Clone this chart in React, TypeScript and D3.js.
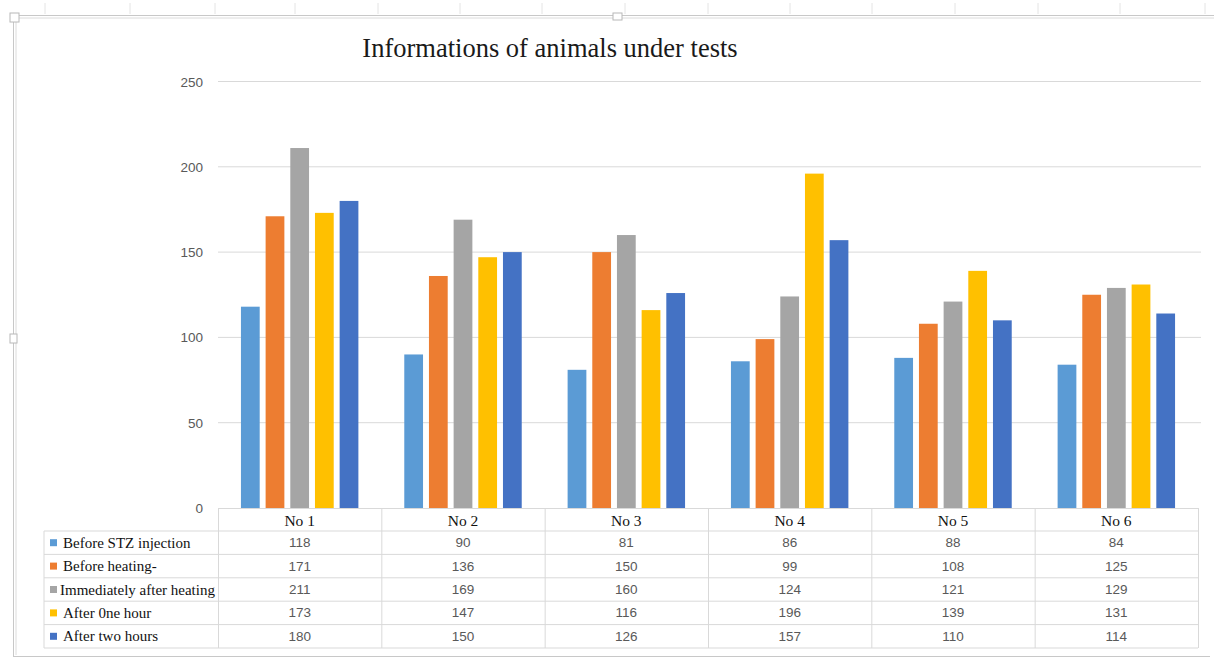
import React from "react";
import { scaleBand, scaleLinear } from "d3";

const categories = ["No 1", "No 2", "No 3", "No 4", "No 5", "No 6"];
const seriesNames = [
  "Before STZ injection",
  "Before heating-",
  "Immediately after heating",
  "After 0ne hour",
  "After two hours",
];
const beforeStz = [118, 90, 81, 86, 88, 84];
const beforeHeating = [171, 136, 150, 99, 108, 125];
const immediately = [211, 169, 160, 124, 121, 129];
const afterOneHour = [173, 147, 116, 196, 139, 131];
const afterTwoHours = [180, 150, 126, 157, 110, 114];
const yTicks = [0, 50, 100, 150, 200, 250];

const colors = ["#5B9BD5", "#ED7D31", "#A5A5A5", "#FFC000", "#4472C4"];
const series = [beforeStz, beforeHeating, immediately, afterOneHour, afterTwoHours];

const W = 1214;
const H = 659;
const plotLeft = 218;
const plotRight = 1198;
const plotTop = 81.5;
const plotBottom = 508;
const tableLeft = 44;
const rowH = 23.4;
const headerBottom = 531;

const App = () => {
  const x = scaleBand<string>().domain(categories).range([plotLeft, plotRight]);
  const inner = scaleBand<number>()
    .domain(series.map((_, i) => i))
    .range([0, x.bandwidth()])
    .paddingInner(0.24)
    .paddingOuter(0.93);
  const y = scaleLinear().domain([0, 250]).range([plotBottom, plotTop]);

  const sans = "'Liberation Sans', Arial, sans-serif";
  const serif = "'Liberation Serif', 'Times New Roman', serif";
  const lineCol = "#d9d9d9";

  return (
    <svg width={W} height={H} style={{ position: "absolute", left: 0, top: 0, background: "#fff" }}>
      {/* spreadsheet frame */}
      {[45, 130, 215, 295, 378, 460, 542, 625, 708, 790, 872, 955, 1038, 1120, 1205].map((cx) => (
        <line key={cx} x1={cx} x2={cx} y1={3} y2={14} stroke="#e4e4e4" />
      ))}
      <line x1={15} x2={W} y1={15.5} y2={15.5} stroke="#c8c8c8" />
      <line x1={15} x2={W} y1={18} y2={18} stroke="#dcdcdc" />
      <line x1={13.5} x2={13.5} y1={18} y2={657} stroke="#c8c8c8" />
      <line x1={16} x2={16} y1={18} y2={655} stroke="#dcdcdc" />
      <line x1={13} x2={W - 4} y1={656.5} y2={656.5} stroke="#c8c8c8" />
      <rect x={10} y={13} width={9} height={9} fill="#fff" stroke="#b8b8b8" />
      <rect x={10} y={334} width={7} height={9} fill="#fff" stroke="#b8b8b8" />
      <rect x={613} y={13} width={9} height={7} fill="#fff" stroke="#b8b8b8" />

      <text x={550} y={57} textAnchor="middle" fontFamily={serif} fontSize={26.5} fill="#1a1a1a">
        Informations of animals under tests
      </text>

      {/* gridlines and y axis */}
      {yTicks.map((t) => (
        <g key={t}>
          {t > 0 && <line x1={plotLeft} x2={plotRight + 3} y1={y(t)} y2={y(t)} stroke={lineCol} />}
          <text x={203} y={y(t) + 5} textAnchor="end" fontFamily={sans} fontSize={13.5} fill="#595959">
            {t}
          </text>
        </g>
      ))}

      {/* bars */}
      {categories.map((c, ci) => (
        <g key={c} transform={`translate(${x(c)},0)`}>
          {series.map((s, si) => (
            <rect
              key={si}
              x={inner(si)}
              y={y(s[ci])}
              width={inner.bandwidth()}
              height={plotBottom - y(s[ci])}
              fill={colors[si]}
            />
          ))}
        </g>
      ))}

      {/* data table */}
      <line x1={plotLeft} x2={plotRight} y1={plotBottom + 0.5} y2={plotBottom + 0.5} stroke={lineCol} />
      {series.map((_, ri) => (
        <line
          key={ri}
          x1={tableLeft}
          x2={plotRight}
          y1={headerBottom + ri * rowH}
          y2={headerBottom + ri * rowH}
          stroke={lineCol}
        />
      ))}
      <line
        x1={tableLeft}
        x2={plotRight}
        y1={headerBottom + series.length * rowH}
        y2={headerBottom + series.length * rowH}
        stroke={lineCol}
      />
      <line
        x1={tableLeft}
        x2={tableLeft}
        y1={headerBottom}
        y2={headerBottom + series.length * rowH}
        stroke={lineCol}
      />
      {[...categories.map((c) => x(c) as number), plotRight].map((vx, i) => (
        <line
          key={i}
          x1={vx + 0.5}
          x2={vx + 0.5}
          y1={plotBottom}
          y2={headerBottom + series.length * rowH}
          stroke={lineCol}
        />
      ))}
      {categories.map((c) => (
        <text
          key={c}
          x={(x(c) as number) + x.bandwidth() / 2}
          y={headerBottom - 5}
          textAnchor="middle"
          fontFamily={serif}
          fontSize={15.5}
          fill="#111"
        >
          {c}
        </text>
      ))}
      {seriesNames.map((name, ri) => {
        const cy = headerBottom + ri * rowH + rowH / 2;
        return (
          <g key={name}>
            <rect x={50} y={cy - 3.5} width={7} height={7} fill={colors[ri]} />
            <text x={ri === 2 ? 60 : 63} y={cy + 5} fontFamily={serif} fontSize={15} fill="#111">
              {name}
            </text>
            {categories.map((c, ci) => (
              <text
                key={c}
                x={(x(c) as number) + x.bandwidth() / 2}
                y={cy + 4.5}
                textAnchor="middle"
                fontFamily={sans}
                fontSize={13.5}
                fill="#595959"
              >
                {series[ri][ci]}
              </text>
            ))}
          </g>
        );
      })}
    </svg>
  );
};

export default App;
